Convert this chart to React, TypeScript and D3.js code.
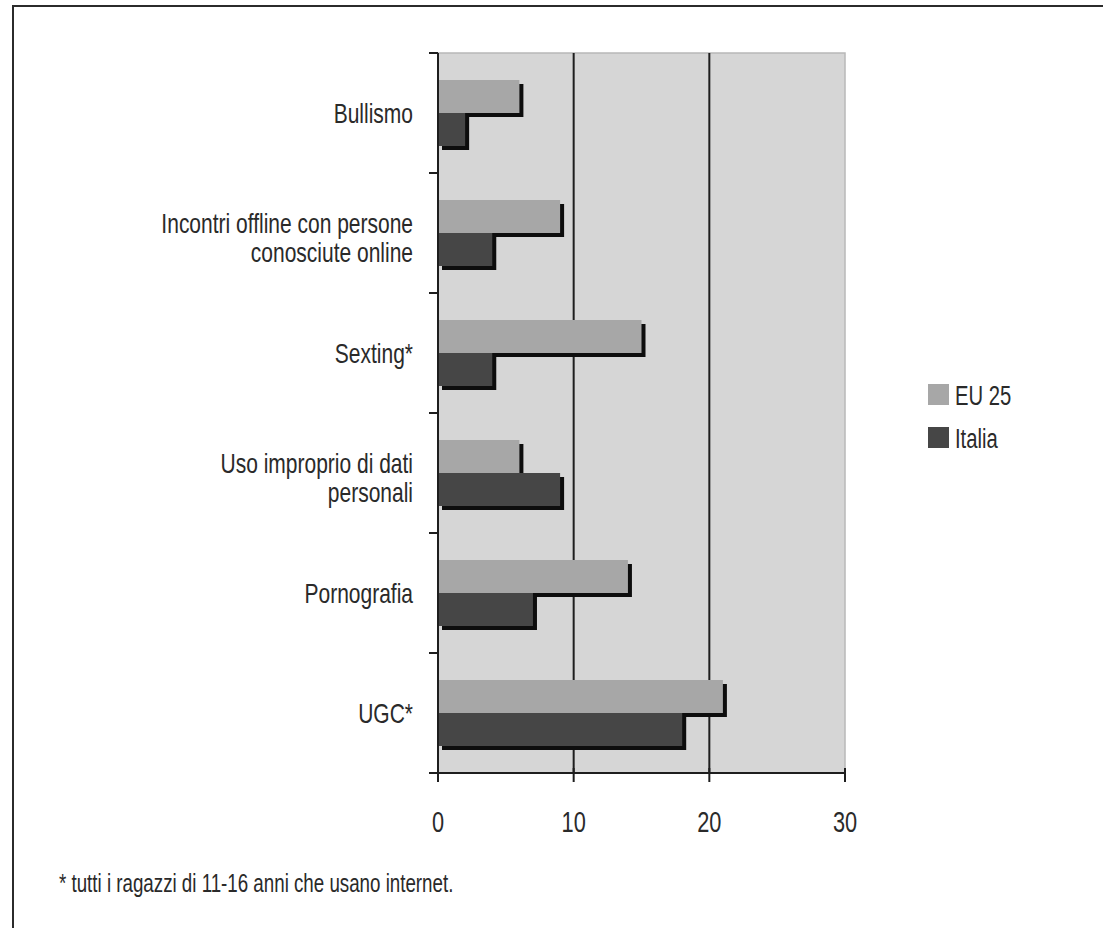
import React from 'react';
import * as d3 from 'd3';

// Data (values in %)
const categories = [
    'Bullismo',
    'Incontri offline con persone|conosciute online',
    'Sexting*',
    'Uso improprio di dati|personali',
    'Pornografia',
    'UGC*'
];
const seriesNames = ['EU 25', 'Italia'];
const eu25Values = [6, 9, 15, 6, 14, 21];
const italiaValues = [2, 4, 4, 9, 7, 18];
const xTicks = [0, 10, 20, 30];
const footnote = '* tutti i ragazzi di 11-16 anni che usano internet.';

const WIDTH = 1103;
const HEIGHT = 928;
const FONT = '"Liberation Sans", Arial, sans-serif';
const NARROW = 0.75; // horizontal squeeze to imitate a condensed face
const colors: Record<string, string> = { 'EU 25': '#a7a7a7', 'Italia': '#464646' };

// condensed text helper: squeezes glyphs horizontally around the anchor point
const CText: React.FC<{ x: number; y: number; size: number; anchor?: string; children: React.ReactNode }> =
    ({ x, y, size, anchor = 'start', children }) => (
        <g transform={`translate(${x},${y}) scale(${NARROW},1)`}>
            <text x={0} y={0} fontSize={size} textAnchor={anchor} fill="#2a2a2a">{children}</text>
        </g>
    );

const App: React.FC = () => {
    const plot = { left: 438, right: 845, top: 53, bottom: 773 };

    const xScale = d3.scaleLinear().domain([0, 30]).range([plot.left, plot.right]);
    const yScale = d3.scaleBand<string>().domain(categories).range([plot.top, plot.bottom]).padding(0);
    const barH = 33;
    const seriesScale = d3.scaleBand<string>().domain(seriesNames).range([-barH, barH]);
    const valuesBySeries: Record<string, number[]> = { 'EU 25': eu25Values, 'Italia': italiaValues };
    const shadow = 4;

    const bandEdges = categories.map(c => yScale(c) as number).concat([plot.bottom]);

    return (
        <svg width={WIDTH} height={HEIGHT} style={{ position: 'absolute', left: 0, top: 0, background: '#fff' }}
            fontFamily={FONT}>
            {/* outer frame */}
            <path d={`M13,${HEIGHT} V6 H${WIDTH}`} fill="none" stroke="#2b2b2b" strokeWidth={2} />

            {/* plot background */}
            <rect x={plot.left} y={plot.top} width={plot.right - plot.left} height={plot.bottom - plot.top}
                fill="#d6d6d6" stroke="#b8b8b8" strokeWidth={1.5} />

            {/* gridlines */}
            {xTicks.filter(t => t > 0 && t < 30).map(t => (
                <line key={t} x1={xScale(t)} x2={xScale(t)} y1={plot.top} y2={plot.bottom}
                    stroke="#1e1e1e" strokeWidth={2} />
            ))}

            {/* bars with drop shadow */}
            {categories.map((c, i) => {
                const center = (yScale(c) as number) + yScale.bandwidth() / 2;
                return (
                    <g key={c}>
                        {seriesNames.map(s => {
                            const y = center + (seriesScale(s) as number);
                            const w = xScale(valuesBySeries[s][i]) - xScale(0);
                            return (
                                <g key={s}>
                                    <rect x={xScale(0) + shadow} y={y + shadow} width={w} height={seriesScale.bandwidth()}
                                        fill="#0d0d0d" />
                                    <rect x={xScale(0)} y={y} width={w} height={seriesScale.bandwidth()}
                                        fill={colors[s]} />
                                </g>
                            );
                        })}
                    </g>
                );
            })}

            {/* axes */}
            <line x1={plot.left} x2={plot.left} y1={plot.top} y2={plot.bottom} stroke="#1e1e1e" strokeWidth={2} />
            {bandEdges.map((y, i) => (
                <line key={i} x1={plot.left - 9} x2={plot.left} y1={y} y2={y} stroke="#1e1e1e" strokeWidth={2} />
            ))}
            <line x1={plot.left - 9} x2={plot.right} y1={plot.bottom} y2={plot.bottom} stroke="#1e1e1e" strokeWidth={2} />
            {xTicks.map(t => (
                <g key={t}>
                    <line x1={xScale(t)} x2={xScale(t)} y1={plot.bottom - 5} y2={plot.bottom + 9}
                        stroke="#1e1e1e" strokeWidth={2} />
                    <CText x={xScale(t)} y={832} size={29} anchor="middle">{t}</CText>
                </g>
            ))}

            {/* category labels */}
            {categories.map(c => {
                const center = (yScale(c) as number) + yScale.bandwidth() / 2;
                const lines = c.split('|');
                return (
                    <g key={c}>
                        {lines.map((ln, j) => (
                            <CText key={j} x={413} y={lines.length === 1 ? center + 10 : center + j * 29}
                                size={28} anchor="end">{ln}</CText>
                        ))}
                    </g>
                );
            })}

            {/* legend */}
            {seriesNames.map((s, i) => (
                <g key={s}>
                    <rect x={928} y={384 + i * 43} width={21} height={21} fill={colors[s]} />
                    <CText x={955} y={405 + i * 43} size={27}>{s}</CText>
                </g>
            ))}

            {/* footnote */}
            <CText x={59} y={892} size={25}>{footnote}</CText>
        </svg>
    );
};

export default App;
